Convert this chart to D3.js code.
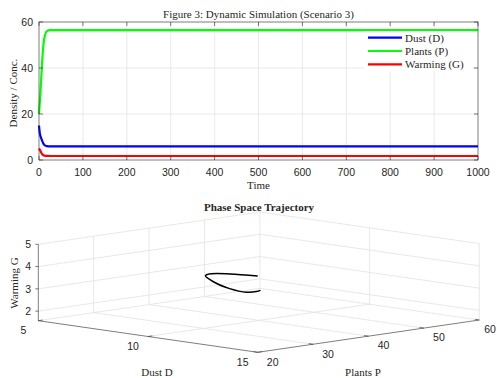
<!DOCTYPE html>
<html>
<head>
<meta charset="utf-8">
<script src="https://cdn.jsdelivr.net/npm/d3@7"></script>
<style>
  html, body { margin: 0; padding: 0; background: #fff; }
  svg { display: block; }
  .serif { font-family: "Liberation Serif", "Times New Roman", serif; fill: #262626; }
  .sans { font-family: "Liberation Sans", Arial, sans-serif; fill: #262626; }
</style>
</head>
<body>
<div id="chart"></div>
<script>
// Simulation samples (time, dust, plants, warming)
const times   = [0, 1, 2, 3, 4, 6, 9, 13, 18, 25, 40, 1000];
const dust    = [15, 13, 11.5, 10.6, 10, 9, 7.5, 6.4, 6.0, 5.9, 5.9, 5.9];
const plants  = [20, 22.9, 25.5, 28, 31.8, 38.7, 47.7, 53.8, 56, 56.5, 56.5, 56.5];
const warming = [5, 4.7, 4.4, 4.1, 3.6, 2.9, 2.2, 1.85, 1.76, 1.75, 1.75, 1.75];

const seriesNames  = ["Dust (D)", "Plants (P)", "Warming (G)"];
const seriesColors = ["#0000ff", "#00ff00", "#ff0000"];

const timeTicks    = [0, 100, 200, 300, 400, 500, 600, 700, 800, 900, 1000];
const densityTicks = [0, 20, 40, 60];
const dustTicks    = [5, 10, 15];
const plantTicks   = [20, 30, 40, 50, 60];
const warmTicks    = [2, 3, 4, 5];

const W = 497, H = 378;
const svg = d3.select("#chart").append("svg")
  .attr("width", W).attr("height", H);

// ---------- Top: time series ----------
const box = {left: 39, right: 478, top: 22, bottom: 160};
const x = d3.scaleLinear().domain([0, 1000]).range([box.left, box.right]);
const y = d3.scaleLinear().domain([0, 60]).range([box.bottom, box.top]);

const topG = svg.append("g");

// grid
topG.append("g").selectAll("line").data(timeTicks.slice(1, -1)).join("line")
  .attr("x1", d => x(d)).attr("x2", d => x(d))
  .attr("y1", box.top).attr("y2", box.bottom)
  .attr("stroke", "#e3e3e3").attr("stroke-width", 0.8);
topG.append("g").selectAll("line").data(densityTicks.slice(1, -1)).join("line")
  .attr("x1", box.left).attr("x2", box.right)
  .attr("y1", d => y(d)).attr("y2", d => y(d))
  .attr("stroke", "#e3e3e3").attr("stroke-width", 0.8);

// series
const data = times.map((t, i) => ({t, v: [dust[i], plants[i], warming[i]]}));
seriesNames.forEach((name, k) => {
  topG.append("path")
    .datum(data)
    .attr("fill", "none")
    .attr("stroke", seriesColors[k])
    .attr("stroke-width", 2.2)
    .attr("d", d3.line().x(d => x(d.t)).y(d => y(d.v[k])).curve(d3.curveMonotoneX));
});

// box + ticks (mirrored, inward)
topG.append("rect")
  .attr("x", box.left).attr("y", box.top)
  .attr("width", box.right - box.left).attr("height", box.bottom - box.top)
  .attr("fill", "none").attr("stroke", "#262626").attr("stroke-width", 0.6);
const tl = 4;
topG.append("g").selectAll("path").data(timeTicks).join("path")
  .attr("d", d => `M${x(d)},${box.bottom}v${-tl}M${x(d)},${box.top}v${tl}`)
  .attr("stroke", "#262626").attr("stroke-width", 0.6);
topG.append("g").selectAll("path").data(densityTicks).join("path")
  .attr("d", d => `M${box.left},${y(d)}h${tl}M${box.right},${y(d)}h${-tl}`)
  .attr("stroke", "#262626").attr("stroke-width", 0.6);

topG.append("g").selectAll("text").data(timeTicks).join("text")
  .attr("class", "sans").attr("font-size", 10.5)
  .attr("x", d => x(d)).attr("y", 175.5)
  .attr("text-anchor", "middle").text(d => d);
topG.append("g").selectAll("text").data(densityTicks).join("text")
  .attr("class", "sans").attr("font-size", 10.5)
  .attr("x", 33).attr("y", d => y(d) + 3.8)
  .attr("text-anchor", "end").text(d => d);

topG.append("text").attr("class", "serif").attr("font-size", 11)
  .attr("x", (box.left + box.right) / 2).attr("y", 18)
  .attr("text-anchor", "middle").text("Figure 3: Dynamic Simulation (Scenario 3)");
topG.append("text").attr("class", "serif").attr("font-size", 11)
  .attr("x", (box.left + box.right) / 2).attr("y", 189)
  .attr("text-anchor", "middle").text("Time");
topG.append("text").attr("class", "serif").attr("font-size", 11)
  .attr("transform", "translate(17,93) rotate(-90)")
  .attr("text-anchor", "middle").text("Density / Conc.");

// legend
const legend = topG.append("g").attr("transform", "translate(364,31)");
legend.append("rect").attr("width", 108).attr("height", 40).attr("fill", "#fff");
seriesNames.forEach((name, k) => {
  const ly = 6.7 + k * 13.3;
  legend.append("line").attr("x1", 4).attr("x2", 38).attr("y1", ly).attr("y2", ly)
    .attr("stroke", seriesColors[k]).attr("stroke-width", 2.2);
  legend.append("text").attr("class", "serif").attr("font-size", 11)
    .attr("x", 41).attr("y", ly + 3.8).text(name);
});

// ---------- Bottom: 3D phase space ----------
const dS = d3.scaleLinear().domain([5, 15]).range([0, 1]);
const pS = d3.scaleLinear().domain([20, 60]).range([0, 1]);
const gS = d3.scaleLinear().domain([1.57, 5]).range([0, 1]);
const origin = [38.3, 320.7];       // D=5, P=20, G=min
const dVec = [219.4, 31.6], pVec = [221.6, -32.3], gVec = [0, -76.4];
const proj = (dv, pv, gv) => {
  const a = dS(dv), b = pS(pv), c = gS(gv);
  return [origin[0] + dVec[0] * a + pVec[0] * b + gVec[0] * c,
          origin[1] + dVec[1] * a + pVec[1] * b + gVec[1] * c];
};
const g3 = svg.append("g");
const gmin = gS.domain()[0], gmax = gS.domain()[1];
const seg = (p1, p2) => `M${p1[0]},${p1[1]}L${p2[0]},${p2[1]}`;
const gridCol = "#e2e2e2";

const gridPaths = [];
// back wall D=5
plantTicks.slice(1).forEach(p => gridPaths.push(seg(proj(5, p, gmin), proj(5, p, gmax))));
warmTicks.forEach(g => gridPaths.push(seg(proj(5, 20, g), proj(5, 60, g))));
// back wall P=60
dustTicks.slice(1).forEach(dv => gridPaths.push(seg(proj(dv, 60, gmin), proj(dv, 60, gmax))));
warmTicks.forEach(g => gridPaths.push(seg(proj(5, 60, g), proj(15, 60, g))));
// floor
dustTicks.slice(0, -1).forEach(dv => gridPaths.push(seg(proj(dv, 20, gmin), proj(dv, 60, gmin))));
plantTicks.slice(1).forEach(p => gridPaths.push(seg(proj(5, p, gmin), proj(15, p, gmin))));
g3.append("g").selectAll("path").data(gridPaths).join("path")
  .attr("d", d => d).attr("stroke", gridCol).attr("stroke-width", 0.8).attr("fill", "none");

// axis lines
const axCol = "#262626";
g3.append("path")
  .attr("d", seg(proj(5, 20, gmin), proj(5, 20, gmax)) + seg(proj(5, 20, gmin), proj(15, 20, gmin)) + seg(proj(15, 20, gmin), proj(15, 60, gmin)))
  .attr("stroke", axCol).attr("stroke-width", 0.6).attr("fill", "none");

// ticks
g3.append("g").selectAll("path").data(warmTicks).join("path")
  .attr("d", g => { const p = proj(5, 20, g); return `M${p[0]},${p[1]}h-3`; })
  .attr("stroke", axCol).attr("stroke-width", 0.6);
g3.append("g").selectAll("path").data(dustTicks).join("path")
  .attr("d", dv => seg(proj(dv, 20, gmin), proj(dv, 20.8, gmin)))
  .attr("stroke", axCol).attr("stroke-width", 0.6);
g3.append("g").selectAll("path").data(plantTicks).join("path")
  .attr("d", p => seg(proj(15, p, gmin), proj(14.8, p, gmin)))
  .attr("stroke", axCol).attr("stroke-width", 0.6);

g3.append("g").selectAll("text").data(warmTicks).join("text")
  .attr("class", "sans").attr("font-size", 10.5)
  .attr("x", 31).attr("y", g => proj(5, 20, g)[1] + 3.8)
  .attr("text-anchor", "end").text(d => d);
g3.append("g").selectAll("text").data(dustTicks).join("text")
  .attr("class", "sans").attr("font-size", 10.5)
  .attr("x", dv => proj(dv, 20, gmin)[0] - 15).attr("y", dv => proj(dv, 20, gmin)[1] + 13.3)
  .attr("text-anchor", "middle").text(d => d);
g3.append("g").selectAll("text").data(plantTicks).join("text")
  .attr("class", "sans").attr("font-size", 10.5)
  .attr("x", p => Math.min(proj(15, p, gmin)[0] + 15, W - 7))
  .attr("y", p => proj(15, p, gmin)[1] + 13.3)
  .attr("text-anchor", "middle").text(d => d);

g3.append("text").attr("class", "serif").attr("font-size", 11)
  .attr("x", 157).attr("y", 375.5).attr("text-anchor", "middle").text("Dust D");
g3.append("text").attr("class", "serif").attr("font-size", 11)
  .attr("x", 363).attr("y", 375.5).attr("text-anchor", "middle").text("Plants P");
g3.append("text").attr("class", "serif").attr("font-size", 11)
  .attr("transform", "translate(18,283) rotate(-90)")
  .attr("text-anchor", "middle").text("Warming G");
g3.append("text").attr("class", "serif").attr("font-size", 11).attr("font-weight", "bold")
  .attr("x", 259).attr("y", 211).attr("text-anchor", "middle").text("Phase Space Trajectory");

// trajectory
const traj = times.map((t, i) => proj(dust[i], plants[i], warming[i]));
g3.append("path")
  .attr("d", d3.line().curve(d3.curveCatmullRom)(traj))
  .attr("fill", "none").attr("stroke", "#000").attr("stroke-width", 1.5);
</script>
</body>
</html>
